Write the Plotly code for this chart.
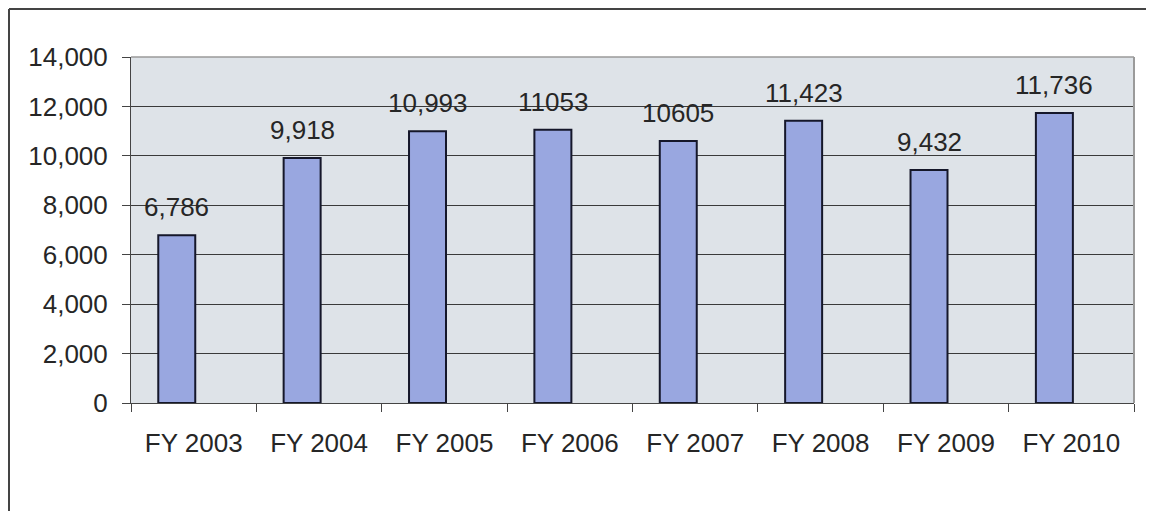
import plotly.graph_objects as go

categories = ["FY 2003", "FY 2004", "FY 2005", "FY 2006", "FY 2007", "FY 2008", "FY 2009", "FY 2010"]
values = [6786, 9918, 10993, 11053, 10605, 11423, 9432, 11736]
value_labels = ["6,786", "9,918", "10,993", "11053", "10605", "11,423", "9,432", "11,736"]
y_ticks = [0, 2000, 4000, 6000, 8000, 10000, 12000, 14000]
y_tick_labels = ["0", "2,000", "4,000", "6,000", "8,000", "10,000", "12,000", "14,000"]

FONT = "Liberation Sans, Arial, sans-serif"
TXT = "#262626"
FS = 26

# figure is placed by the page at (8, 8); margins compensate for that offset
W, H = 1146, 503
L, R, T, B = 123, 20, 49, 108
PW, PH = W - L - R, H - T - B
CAT_PX = PW / len(categories)

BAR_W = 0.295
BAR_OFF = -0.2825  # bars sit left of category centre (as in the source chart)

fig = go.Figure()
fig.add_trace(go.Bar(
    x=categories, y=values,
    marker=dict(color="#99a7e0", line=dict(color="#15172a", width=2)),
    width=BAR_W, offset=BAR_OFF,
    hoverinfo="x+y",
))

annotations = [
    dict(x=c, y=v, text=t, xref="x", yref="y", showarrow=False,
         yanchor="bottom", yshift=11,
         xshift=(BAR_OFF + BAR_W / 2) * CAT_PX,
         font=dict(size=FS, color=TXT, family=FONT))
    for c, v, t in zip(categories, values, value_labels)
]

fig.update_layout(
    width=W, height=H,
    margin=dict(l=L, r=R, t=T, b=B),
    paper_bgcolor="#ffffff",
    plot_bgcolor="#dee3e8",
    showlegend=False,
    font=dict(family=FONT, size=FS, color=TXT),
    annotations=annotations,
    xaxis=dict(
        showgrid=False, ticks="outside", ticklen=8, tickcolor="#444444",
        tickson="boundaries", showline=True, linecolor="#444444", linewidth=1,
        tickfont=dict(size=FS, color=TXT), ticklabelstandoff=17,
    ),
    yaxis=dict(
        range=[0, 14000], tickvals=y_ticks, ticktext=y_tick_labels,
        showgrid=True, gridcolor="#3a3a3a", gridwidth=1,
        ticks="outside", ticklen=8, tickcolor="#444444",
        showline=True, linecolor="#444444", linewidth=1,
        zeroline=False, tickfont=dict(size=FS, color=TXT), ticklabelstandoff=9,
    ),
    shapes=[
        dict(type="line", xref="paper", yref="paper", x0=1, x1=1, y0=0, y1=1,
             line=dict(color="#9a9a9a", width=2)),
        dict(type="line", xref="paper", yref="paper", x0=0, x1=1, y0=1, y1=1,
             line=dict(color="#9a9a9a", width=1.5)),
        dict(type="line", xref="paper", yref="paper",
             x0=(1 - L) / PW, x1=(W - L) / PW, y0=1 + (T - 1) / PH, y1=1 + (T - 1) / PH,
             line=dict(color="#444444", width=2)),
        dict(type="line", xref="paper", yref="paper",
             x0=(1 - L) / PW, x1=(1 - L) / PW, y0=1 + (T - 1) / PH, y1=-B / PH,
             line=dict(color="#444444", width=2)),
    ],
)

fig.write_html("out.html")
